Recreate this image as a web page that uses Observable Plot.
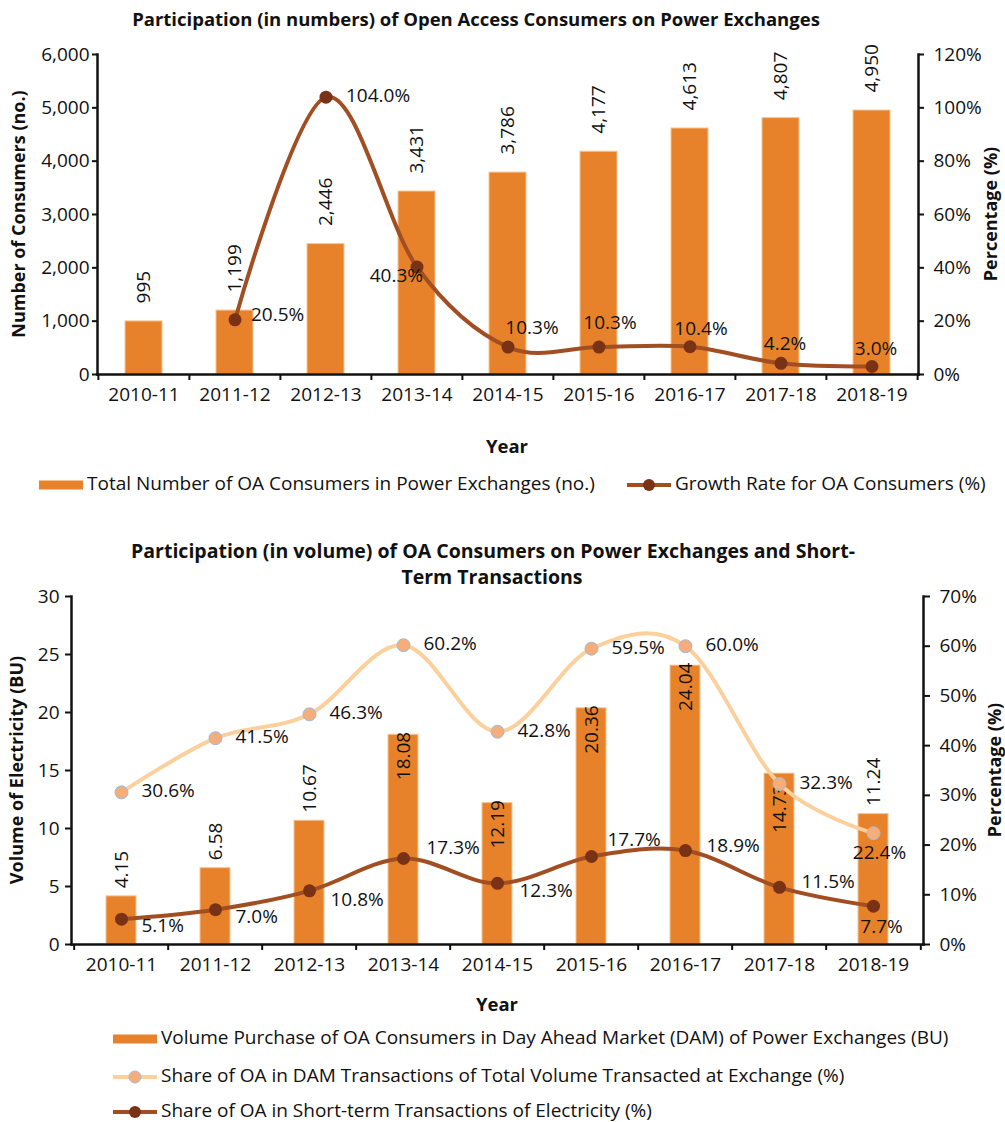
<!DOCTYPE html>
<html><head><meta charset="utf-8">
<script src="https://cdn.jsdelivr.net/npm/d3@7"></script>
<script src="https://cdn.jsdelivr.net/npm/@observablehq/plot@0.6"></script>
<style>
body{margin:0;background:#fff;font-family:"Open Sans",sans-serif;color:#111;}
#page{position:relative;width:1005px;height:1122px;overflow:hidden;}
.abs{position:absolute;}
.ttl{font-weight:bold;font-size:18.5px;white-space:nowrap;transform:translate(-50%,-50%);}
.ttl2{font-weight:bold;font-size:19.5px;white-space:nowrap;transform:translate(-50%,-50%);}
.axt{font-weight:bold;font-size:18px;white-space:nowrap;transform:translate(-50%,-50%) rotate(-90deg);}
.lg{font-size:19px;white-space:nowrap;transform:translateY(-50%);}
</style></head><body><div id="page"></div>
<script>
// ---------- data ----------
const years = ["2010-11","2011-12","2012-13","2013-14","2014-15","2015-16","2016-17","2017-18","2018-19"];
const consumers = [995, 1199, 2446, 3431, 3786, 4177, 4613, 4807, 4950];
const growthPct = [null, 20.5, 104.0, 40.3, 10.3, 10.3, 10.4, 4.2, 3.0];
const volumeBU = [4.15, 6.58, 10.67, 18.08, 12.19, 20.36, 24.04, 14.73, 11.24];
const damSharePct = [30.6, 41.5, 46.3, 60.2, 42.8, 59.5, 60.0, 32.3, 22.4];
const stSharePct = [5.1, 7.0, 10.8, 17.3, 12.3, 17.7, 18.9, 11.5, 7.7];
const consumerTicks = [0, 1000, 2000, 3000, 4000, 5000, 6000];
const pctTicks1 = [0, 20, 40, 60, 80, 100, 120];
const volumeTicks = [0, 5, 10, 15, 20, 25, 30];
const pctTicks2 = [0, 10, 20, 30, 40, 50, 60, 70];

// ---------- styles ----------
const ORANGE = "#E8822A", BAR_EDGE = "#F6C495";
const BROWN_LINE = "#A14F22", BROWN_DOT = "#7A3216";
const PEACH_LINE = "#FCD09C", PEACH_DOT = "#F5AE7B", PEACH_EDGE = "#9DBBE0";
const FS = 19;
const W = 1005;
const page = document.getElementById("page");
const fmtInt = d3.format(",");
const fmtPct = d => d.toFixed(1) + "%";

function addDiv(cls, html, x, y) {
  const d = document.createElement("div");
  d.className = "abs " + cls;
  d.style.left = x + "px"; d.style.top = y + "px";
  d.innerHTML = html;
  page.appendChild(d);
}
function place(svg, top) {
  svg.style.position = "absolute";
  svg.style.left = "0px"; svg.style.top = top + "px";
  page.appendChild(svg);
}
function swatchBar(color) {
  return `<svg width="48" height="12" style="vertical-align:middle"><rect x="0" y="1.5" width="44" height="9" fill="${color}"/></svg>`;
}
function swatchLine(line, dot, edge) {
  return `<svg width="48" height="16" style="vertical-align:middle"><line x1="0" x2="44" y1="8" y2="8" stroke="${line}" stroke-width="4"/><circle cx="22" cy="8" r="6" fill="${dot}" ${edge ? `stroke="${edge}" stroke-width="1"` : ""}/></svg>`;
}
const baseStyle = {fontFamily: "Open Sans", fontSize: FS + "px", color: "#111", background: "transparent", overflow: "visible"};

// ================= Chart 1 =================
const c1 = {top: 36, ml: 97, mr: 87, mt: 18, ph: 320, mb: 86};
const rows1 = years.map((year, i) => ({year, n: consumers[i], g: growthPct[i]}));
const step1 = (W - c1.ml - c1.mr) / years.length;
const xScale1 = {type: "band", domain: years, paddingInner: 0.59, paddingOuter: 0.295, align: 0.5};
const dims1 = {width: W, height: c1.mt + c1.ph + c1.mb, marginTop: c1.mt, marginBottom: c1.mb, marginLeft: c1.ml, marginRight: c1.mr};

const base1 = Plot.plot({
  ...dims1, style: baseStyle,
  x: xScale1,
  y: {domain: [0, 6000]},
  marks: [
    Plot.barY(rows1, {x: "year", y: "n", fill: ORANGE, stroke: BAR_EDGE, strokeWidth: 1}),
    Plot.text(rows1, {x: "year", y: "n", text: d => fmtInt(d.n), rotate: -90, textAnchor: "start", dy: -18, fontSize: FS, fill: "#111"}),
    Plot.axisY({ticks: consumerTicks, tickFormat: fmtInt, tickSize: 5, tickPadding: 3, strokeWidth: 2, fontSize: FS, label: null}),
    Plot.axisX({tickSize: 0, tickPadding: 13, fontSize: FS, label: null}),
    Plot.axisX({ticks: years, tickSize: 6, dx: -step1 / 2, tickFormat: () => "", strokeWidth: 2, label: null}),
    Plot.axisX({ticks: [years[years.length - 1]], tickSize: 6, dx: step1 / 2, tickFormat: () => "", strokeWidth: 2, label: null}),
    Plot.frame({anchor: "left", strokeWidth: 2.5}),
    Plot.frame({anchor: "bottom", strokeWidth: 2.5})
  ]
});
place(base1, c1.top);

const gRows = rows1.filter(d => d.g != null);
const gLabel = { // [dx, dy, anchor]
  "2011-12": [16, -5, "start"], "2012-13": [20, -1, "start"], "2013-14": [6, 9, "end"],
  "2014-15": [24, -19, "middle"], "2015-16": [11, -24, "middle"], "2016-17": [11, -18, "middle"],
  "2017-18": [4, -19, "middle"], "2018-19": [4, -18, "middle"]
};
const over1 = Plot.plot({
  ...dims1, style: baseStyle,
  x: {...xScale1, axis: null},
  y: {domain: [0, 120]},
  marks: [
    Plot.lineY(gRows, {x: "year", y: "g", curve: "cardinal", stroke: BROWN_LINE, strokeWidth: 4}),
    Plot.dot(gRows, {x: "year", y: "g", r: 6.5, fill: BROWN_DOT}),
    ...gRows.map(d => {
      const [dx, dy, a] = gLabel[d.year];
      return Plot.text([d], {x: "year", y: "g", text: r => fmtPct(r.g), dx, dy, textAnchor: a, fontSize: FS, fill: "#111"});
    }),
    Plot.axisY({anchor: "right", ticks: pctTicks1, tickFormat: d => d + "%", tickSize: 5, tickPadding: 10, strokeWidth: 2, fontSize: FS, label: null}),
    Plot.frame({anchor: "right", strokeWidth: 2.5})
  ]
});
place(over1, c1.top);

addDiv("ttl", "Participation (in numbers) of Open Access Consumers on Power Exchanges", 476, 18);
addDiv("axt", "Number of Consumers (no.)", 18, 214);
addDiv("axt", "Percentage (%)", 990, 214);
addDiv("ttl", "Year", 507, 445);
addDiv("lg", swatchBar(ORANGE) + "Total Number of OA Consumers in Power Exchanges (no.)", 39, 483);
addDiv("lg", swatchLine(BROWN_LINE, BROWN_DOT) + "Growth Rate for OA Consumers (%)", 627, 483);

// ================= Chart 2 =================
const c2 = {top: 586, ml: 71, mr: 82, mt: 10, ph: 348, mb: 76};
const rows2 = years.map((year, i) => ({year, v: volumeBU[i], dam: damSharePct[i], st: stSharePct[i]}));
const step2 = (W - c2.ml - c2.mr) / years.length;
const xScale2 = {type: "band", domain: years, paddingInner: 0.683, paddingOuter: 0.3415, align: 0.5};
const dims2 = {width: W, height: c2.mt + c2.ph + c2.mb, marginTop: c2.mt, marginBottom: c2.mb, marginLeft: c2.ml, marginRight: c2.mr};
const insideShift = {"2017-18": 14}; // push label below the overlapping marker

const base2 = Plot.plot({
  ...dims2, style: baseStyle,
  x: xScale2,
  y: {domain: [0, 30]},
  marks: [
    Plot.barY(rows2, {x: "year", y: "v", fill: ORANGE, stroke: BAR_EDGE, strokeWidth: 1}),
    Plot.text(rows2.filter(d => d.v <= 12), {x: "year", y: "v", text: d => d.v.toFixed(2), rotate: -90, textAnchor: "start", dy: -8, fontSize: FS, fill: "#111"}),
    ...rows2.filter(d => d.v > 12).map(d =>
      Plot.text([d], {x: "year", y: "v", text: r => r.v.toFixed(2), rotate: -90, textAnchor: "end", dy: -3 + (insideShift[d.year] || 0), fontSize: FS, fill: "#111"})),
    Plot.axisY({ticks: volumeTicks, tickSize: 6, tickPadding: 6, strokeWidth: 2, fontSize: FS, label: null}),
    Plot.axisX({tickSize: 0, tickPadding: 13, fontSize: FS, label: null}),
    Plot.axisX({ticks: years, tickSize: 6, dx: -step2 / 2, tickFormat: () => "", strokeWidth: 2, label: null}),
    Plot.axisX({ticks: [years[years.length - 1]], tickSize: 6, dx: step2 / 2, tickFormat: () => "", strokeWidth: 2, label: null}),
    Plot.frame({anchor: "left", strokeWidth: 2.5}),
    Plot.frame({anchor: "bottom", strokeWidth: 2.5})
  ]
});
place(base2, c2.top);

const damLabel = {"2018-19": [6, 20, "middle"]};
const stLabel = {
  "2010-11": [20, 7, "start"], "2011-12": [20, 7, "start"], "2012-13": [21, 9, "start"],
  "2013-14": [23, -11, "start"], "2014-15": [22, 8, "start"], "2015-16": [16, -17, "start"],
  "2016-17": [21, -5, "start"], "2017-18": [22, -5, "start"], "2018-19": [8, 21, "middle"]
};
const over2 = Plot.plot({
  ...dims2, style: baseStyle,
  x: {...xScale2, axis: null},
  y: {domain: [0, 70]},
  marks: [
    Plot.lineY(rows2, {x: "year", y: "dam", curve: "cardinal", stroke: PEACH_LINE, strokeWidth: 4}),
    Plot.dot(rows2, {x: "year", y: "dam", r: 6.5, fill: PEACH_DOT, stroke: PEACH_EDGE, strokeWidth: 1}),
    ...rows2.map(d => {
      const [dx, dy, a] = damLabel[d.year] || [20, -1, "start"];
      return Plot.text([d], {x: "year", y: "dam", text: r => fmtPct(r.dam), dx, dy, textAnchor: a, fontSize: FS, fill: "#111"});
    }),
    Plot.lineY(rows2, {x: "year", y: "st", curve: "cardinal", stroke: BROWN_LINE, strokeWidth: 4}),
    Plot.dot(rows2, {x: "year", y: "st", r: 6.5, fill: BROWN_DOT}),
    ...rows2.map(d => {
      const [dx, dy, a] = stLabel[d.year];
      return Plot.text([d], {x: "year", y: "st", text: r => fmtPct(r.st), dx, dy, textAnchor: a, fontSize: FS, fill: "#111"});
    }),
    Plot.axisY({anchor: "right", ticks: pctTicks2, tickFormat: d => d + "%", tickSize: 6, tickPadding: 10, strokeWidth: 2, fontSize: FS, label: null}),
    Plot.frame({anchor: "right", strokeWidth: 2.5})
  ]
});
place(over2, c2.top);

addDiv("ttl2", "Participation (in volume) of OA Consumers on Power Exchanges and Short-", 493, 550);
addDiv("ttl2", "Term Transactions", 492, 576);
addDiv("axt", "Volume of Electricity (BU)", 16, 770);
addDiv("axt", "Percentage (%)", 994, 770);
addDiv("ttl", "Year", 497, 1003);
addDiv("lg", swatchBar(ORANGE) + "Volume Purchase of OA Consumers in Day Ahead Market (DAM) of Power Exchanges (BU)", 113, 1037);
addDiv("lg", swatchLine(PEACH_LINE, PEACH_DOT, PEACH_EDGE) + "Share of OA in DAM Transactions of Total Volume Transacted at Exchange (%)", 113, 1075);
addDiv("lg", swatchLine(BROWN_LINE, BROWN_DOT) + "Share of OA in Short-term Transactions of Electricity (%)", 113, 1110);
</script></body></html>
